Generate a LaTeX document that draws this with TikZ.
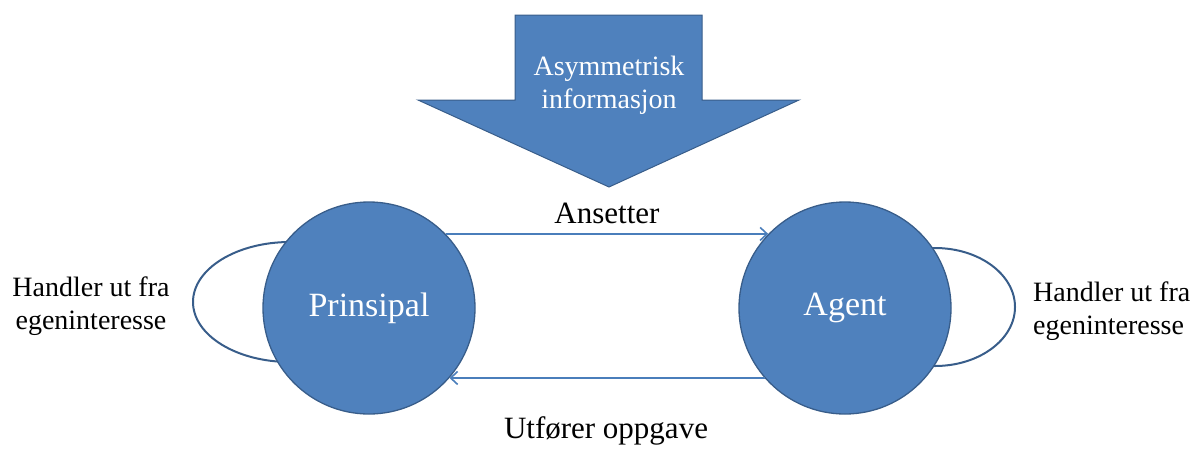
\documentclass[tikz,border=0pt]{standalone}
\usepackage{fontspec}
\setmainfont{Liberation Serif}
\usetikzlibrary{arrows.meta}
\definecolor{fillblue}{HTML}{4F81BD}
\definecolor{edgeblue}{HTML}{385D8A}
\definecolor{lineblue}{HTML}{4A7EBB}
\tikzset{
  party/.style={circle, minimum size=212pt, inner sep=0pt, fill=fillblue, draw=edgeblue, line width=1.3pt, text=white, font=\fontsize{34}{40}\selectfont},
  flow/.style={draw=lineblue, line width=2.2pt, -{Straight Barb[length=7pt,width=13pt,line width=1.6pt]}},
  loopline/.style={draw=edgeblue, line width=2pt},
  lbl/.style={inner sep=0pt, font=\fontsize{31}{37}\selectfont},
  side/.style={inner sep=0pt, align=left, font=\fontsize{28}{33}\selectfont}
}
\begin{document}
\begin{tikzpicture}[x=1pt, y=-1pt]
\useasboundingbox (0,0) rectangle (1196,448);
% self loops (partly hidden behind circles)
\draw[loopline] (290,302) ellipse [x radius=97, y radius=60];
\draw[loopline] (935,307) ellipse [x radius=80, y radius=59];
% circles
\node[party] (P) at (369,308) {Prinsipal};
\node[party] (A) at (845,308) {Agent};
% big arrow
\path[fill=fillblue, draw=edgeblue, line width=1pt]
  (515,15) -- (702,15) -- (702,100) -- (799,100) -- (609,187) -- (418,100) -- (515,100) -- cycle;
\node[inner sep=0pt, align=center, text=white, font=\fontsize{28}{33}\selectfont] (info) at (609,85) {Asymmetrisk\\informasjon};
% connectors
\draw[flow] (P.44) -- (A.136);
\draw[flow] (A.-139) -- (P.-41);
% labels
\node[lbl, anchor=base] (ans) at (607,223) {Ansetter};
\node[lbl, anchor=base] (utf) at (606,438) {Utfører oppgave};
\node[side, align=center] (hl) at (91,306) {Handler ut fra\\egeninteresse};
\node[side, anchor=west] (hr) at (1033,311) {Handler ut fra\\egeninteresse};
\end{tikzpicture}
\end{document}
